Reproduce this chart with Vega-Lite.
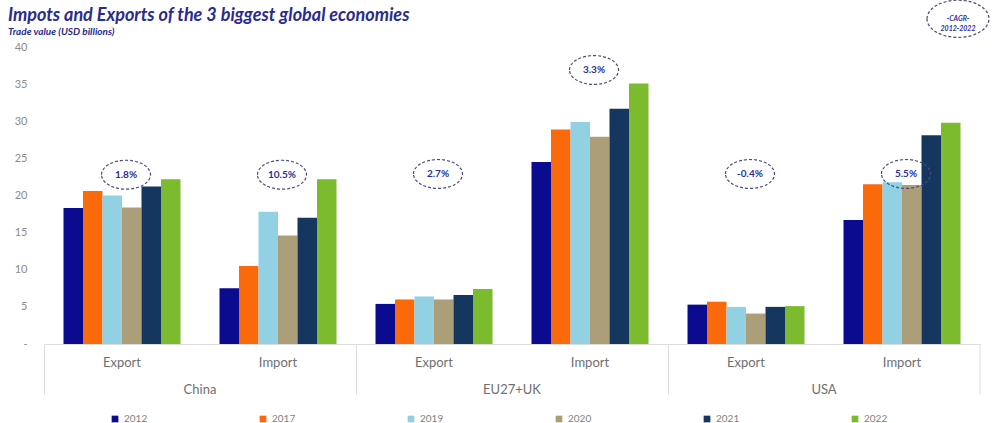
{
  "$schema": "https://vega.github.io/schema/vega-lite/v6.json",
  "padding": {"left": 8, "top": -3, "right": 10, "bottom": 2},
  "background": "white",
  "bounds": "flush",
  "title": {
    "text": "Impots and Exports of the  3 biggest global economies",
    "subtitle": "Trade value (USD billions)",
    "anchor": "start",
    "frame": "bounds",
    "font": "Lato",
    "fontSize": 18,
    "fontStyle": "italic",
    "fontWeight": "bold",
    "color": "#2b2b8f",
    "subtitleFont": "Lato",
    "subtitleFontSize": 10,
    "subtitleFontStyle": "italic",
    "subtitleFontWeight": "bold",
    "subtitleColor": "#2b2b8f",
    "subtitlePadding": 2,
    "offset": -39
  },
  "data": {
    "values": [
      {"country": "China", "flow": "Export", "year": "2012", "value": 18.3},
      {"country": "China", "flow": "Export", "year": "2017", "value": 20.6},
      {"country": "China", "flow": "Export", "year": "2019", "value": 20.0},
      {"country": "China", "flow": "Export", "year": "2020", "value": 18.4},
      {"country": "China", "flow": "Export", "year": "2021", "value": 21.2},
      {"country": "China", "flow": "Export", "year": "2022", "value": 22.2},
      {"country": "China", "flow": "Import", "year": "2012", "value": 7.5},
      {"country": "China", "flow": "Import", "year": "2017", "value": 10.5},
      {"country": "China", "flow": "Import", "year": "2019", "value": 17.8},
      {"country": "China", "flow": "Import", "year": "2020", "value": 14.6},
      {"country": "China", "flow": "Import", "year": "2021", "value": 17.0},
      {"country": "China", "flow": "Import", "year": "2022", "value": 22.2},
      {"country": "EU27+UK", "flow": "Export", "year": "2012", "value": 5.4},
      {"country": "EU27+UK", "flow": "Export", "year": "2017", "value": 6.0},
      {"country": "EU27+UK", "flow": "Export", "year": "2019", "value": 6.4},
      {"country": "EU27+UK", "flow": "Export", "year": "2020", "value": 6.0},
      {"country": "EU27+UK", "flow": "Export", "year": "2021", "value": 6.6},
      {"country": "EU27+UK", "flow": "Export", "year": "2022", "value": 7.4},
      {"country": "EU27+UK", "flow": "Import", "year": "2012", "value": 24.5},
      {"country": "EU27+UK", "flow": "Import", "year": "2017", "value": 28.9},
      {"country": "EU27+UK", "flow": "Import", "year": "2019", "value": 29.9},
      {"country": "EU27+UK", "flow": "Import", "year": "2020", "value": 27.9},
      {"country": "EU27+UK", "flow": "Import", "year": "2021", "value": 31.7},
      {"country": "EU27+UK", "flow": "Import", "year": "2022", "value": 35.1},
      {"country": "USA", "flow": "Export", "year": "2012", "value": 5.3},
      {"country": "USA", "flow": "Export", "year": "2017", "value": 5.7},
      {"country": "USA", "flow": "Export", "year": "2019", "value": 5.0},
      {"country": "USA", "flow": "Export", "year": "2020", "value": 4.1},
      {"country": "USA", "flow": "Export", "year": "2021", "value": 5.0},
      {"country": "USA", "flow": "Export", "year": "2022", "value": 5.1},
      {"country": "USA", "flow": "Import", "year": "2012", "value": 16.7},
      {"country": "USA", "flow": "Import", "year": "2017", "value": 21.5},
      {"country": "USA", "flow": "Import", "year": "2019", "value": 21.8},
      {"country": "USA", "flow": "Import", "year": "2020", "value": 21.4},
      {"country": "USA", "flow": "Import", "year": "2021", "value": 28.1},
      {"country": "USA", "flow": "Import", "year": "2022", "value": 29.8},
      {"country": "China", "flow": "Export", "cagr": "1.8%", "value": 22.8},
      {"country": "China", "flow": "Import", "cagr": "10.5%", "value": 22.8},
      {"country": "EU27+UK", "flow": "Export", "cagr": "2.7%", "value": 22.9},
      {"country": "EU27+UK", "flow": "Import", "cagr": "3.3%", "value": 36.9},
      {"country": "USA", "flow": "Export", "cagr": "-0.4%", "value": 22.9},
      {"country": "USA", "flow": "Import", "cagr": "5.5%", "value": 22.9},
      {"country": "USA", "flow": "Import", "note": "-CAGR-\n2012-2022", "value": 43.8}
    ]
  },
  "spacing": 0,
  "facet": {
    "column": {
      "field": "country",
      "type": "nominal",
      "sort": ["China", "EU27+UK", "USA"],
      "header": {
        "title": null,
        "labelOrient": "bottom",
        "labelAlign": "center",
        "labelAnchor": "middle",
        "labelFont": "Lato",
        "labelFontSize": 13,
        "labelColor": "#707070",
        "labelPadding": -11
      }
    }
  },
  "spec": {
    "width": 312,
    "height": 297,
    "encoding": {
      "x": {
        "field": "flow",
        "type": "nominal",
        "scale": {"paddingInner": 0, "paddingOuter": 0},
        "axis": {
          "title": null,
          "labelAngle": 0,
          "labelFont": "Lato",
          "labelFontSize": 13,
          "labelColor": "#707070",
          "domainColor": "#dcdcdc",
          "bandPosition": 0,
          "tickSize": 50,
          "tickColor": "#dcdcdc",
          "tickOpacity": {"condition": {"test": "datum.value === 'Export'", "value": 1}, "value": 0},
          "labelPadding": -38
        }
      },
      "y": {
        "field": "value",
        "type": "quantitative",
        "scale": {"domain": [0, 40], "nice": false},
        "axis": {
          "title": null,
          "values": [0, 5, 10, 15, 20, 25, 30, 35, 40],
          "labelExpr": "datum.value === 0 ? '-' : datum.label",
          "labelOverlap": false,
          "domain": false,
          "ticks": false,
          "grid": false,
          "labelPadding": 17,
          "labelFont": "Lato",
          "labelFontSize": 11,
          "labelColor": "#8c8c8c",
          "minExtent": 36
        }
      }
    },
    "layer": [
      {
        "transform": [{"filter": "isValid(datum.year)"}],
        "mark": {"type": "bar"},
        "encoding": {
          "xOffset": {"field": "year", "type": "nominal", "scale": {"paddingInner": 0, "paddingOuter": 1.17}},
          "color": {
            "field": "year",
            "type": "nominal",
            "scale": {
              "domain": ["2012", "2017", "2019", "2020", "2021", "2022"],
              "range": ["#0b0b8f", "#fa6a0a", "#92d0e4", "#ab9e78", "#15365e", "#7cba2e"]
            },
            "legend": {
              "title": null,
              "orient": "none",
              "legendX": 66,
              "legendY": 367,
              "direction": "horizontal",
              "columns": 6,
              "columnPadding": 110,
              "symbolType": "square",
              "symbolSize": 45,
              "symbolStrokeWidth": 0,
              "labelFont": "Lato",
              "labelFontSize": 10,
              "labelColor": "#7f7f7f"
            }
          }
        }
      },
      {
        "transform": [{"filter": "datum.country === 'USA' && datum.flow === 'Import' && datum.year === '2022'"}],
        "mark": {"type": "rule", "color": "#dcdcdc", "strokeWidth": 1},
        "encoding": {
          "x": {"field": "flow", "type": "nominal", "bandPosition": 1},
          "y": {"datum": 0},
          "y2": {"datum": -6.73}
        }
      },
      {
        "transform": [{"filter": "isValid(datum.cagr)"}],
        "mark": {
          "type": "point",
          "shape": "M-1,0A1,0.59,0,1,1,1,0A1,0.59,0,1,1,-1,0Z",
          "size": 2400,
          "filled": false,
          "stroke": "#4b4b7d",
          "strokeWidth": 1.2,
          "strokeDash": [3, 2],
          "opacity": 1,
          "xOffset": 4
        }
      },
      {
        "transform": [{"filter": "isValid(datum.cagr)"}],
        "mark": {
          "type": "text",
          "font": "Lato",
          "fontSize": 10,
          "fontWeight": "bold",
          "color": "#2e2e9c",
          "dx": 4
        },
        "encoding": {
          "text": {"field": "cagr"}
        }
      },
      {
        "transform": [{"filter": "isValid(datum.note)"}],
        "mark": {
          "type": "point",
          "shape": "M-1,0A1,0.6,0,1,1,1,0A1,0.6,0,1,1,-1,0Z",
          "size": 3844,
          "filled": false,
          "stroke": "#4b4b7d",
          "strokeWidth": 1.2,
          "strokeDash": [3, 2],
          "opacity": 1,
          "xOffset": 56
        }
      },
      {
        "transform": [{"filter": "isValid(datum.note)"}],
        "mark": {
          "type": "text",
          "font": "Lato",
          "fontSize": 7,
          "fontWeight": "bold",
          "fontStyle": "italic",
          "color": "#2e2e9c",
          "dx": 56,
          "lineBreak": "\n",
          "lineHeight": 10
        },
        "encoding": {
          "text": {"field": "note"}
        }
      }
    ]
  },
  "config": {
    "view": {"stroke": null}
  }
}
